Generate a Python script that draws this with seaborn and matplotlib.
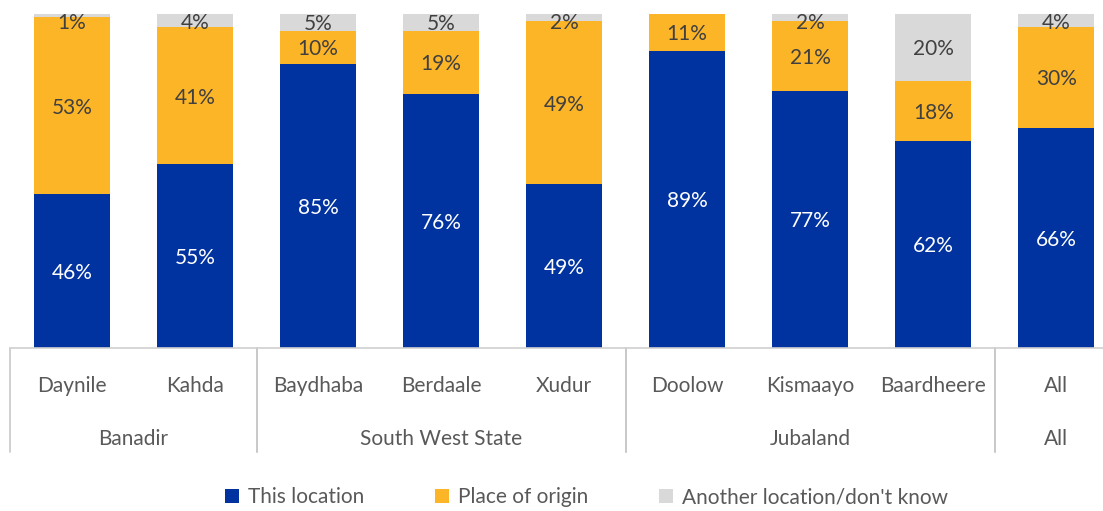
import matplotlib
matplotlib.use("Agg")
import matplotlib.pyplot as plt
import matplotlib.transforms as mtransforms
from matplotlib.patches import Patch
import seaborn as sns
import pandas as pd
import numpy as np

locations = ["Daynile", "Kahda", "Baydhaba", "Berdaale", "Xudur", "Doolow", "Kismaayo", "Baardheere", "All"]
regions = ["Banadir", "Banadir", "South West State", "South West State", "South West State",
           "Jubaland", "Jubaland", "Jubaland", "All"]
this_location = [46, 55, 85, 76, 49, 89, 77, 62, 66]
place_of_origin = [53, 41, 10, 19, 49, 11, 21, 18, 30]
another = [1, 4, 5, 5, 2, 0, 2, 20, 4]
series_names = ["This location", "Place of origin", "Another location/don't know"]
colors = ["#0033A0", "#FDB528", "#D9D9D9"]

sns.set_theme(style="white")
plt.rcParams['font.family'] = ['Lato', 'DejaVu Sans']

df = pd.DataFrame({"loc": locations, "a": this_location, "b": place_of_origin, "c": another})
df["cum_a"] = df["a"]
df["cum_b"] = df["a"] + df["b"]
df["cum_c"] = df["a"] + df["b"] + df["c"]

fig = plt.figure(figsize=(11.03, 5.11), dpi=100)
ax = fig.add_axes([10/1103, 1 - 348/511, 1 - 10/1103, 334/511])

for col, color in zip(["cum_c", "cum_b", "cum_a"], colors[::-1]):
    sns.barplot(data=df, x="loc", y=col, color=color, width=0.62, ax=ax,
                saturation=1, order=locations, edgecolor="none")

ax.set_ylim(0, 100)
ax.set_xlim(-0.504, 8.38)
ax.set_xlabel("")
ax.set_ylabel("")
ax.set_yticks([])
ax.set_xticks([])
for s in ["top", "right", "left"]:
    ax.spines[s].set_visible(False)
ax.spines["bottom"].set_color("#D0D0D0")
ax.spines["bottom"].set_linewidth(1.2)

FS = 15
# data labels
for i in range(len(locations)):
    a, b, c = this_location[i], place_of_origin[i], another[i]
    ax.text(i, a / 2, f"{a}%", ha="center", va="center_baseline", color="white", fontsize=FS)
    if b > 0:
        ax.text(i, a + b / 2, f"{b}%", ha="center", va="center_baseline", color="#404040", fontsize=FS)
    if c > 0:
        yc = a + b + c / 2
        yc = min(yc, 98.0)
        ax.text(i, yc, f"{c}%", ha="center", va="center_baseline", color="#404040", fontsize=FS)

# hierarchical category axis
trans = mtransforms.blended_transform_factory(ax.transData, ax.transAxes)
for i, name in enumerate(locations):
    ax.text(i, -0.108, name, transform=trans, ha="center", va="center_baseline", color="#595959", fontsize=FS)

groups = []
for i, r in enumerate(regions):
    if groups and groups[-1][0] == r:
        groups[-1][2] = i
    else:
        groups.append([r, i, i])
for r, s, e in groups:
    ax.text((s + e) / 2, -0.266, r, transform=trans, ha="center", va="center_baseline", color="#595959", fontsize=FS)
    for xb in (s - 0.5, e + 0.5):
        ax.plot([xb, xb], [0, -0.311], transform=trans, color="#C8C8C8", lw=1.2, clip_on=False)

handles = [Patch(facecolor=c, edgecolor="none", label=n) for c, n in zip(colors, series_names)]
fig.legend(handles=handles, loc="center", bbox_to_anchor=(0.532, 0.027), ncol=3, frameon=False,
           fontsize=FS, handlelength=0.65, handleheight=0.65, columnspacing=3.4, handletextpad=0.45,
           labelcolor="#595959")

fig.savefig("out.png", dpi=100)
